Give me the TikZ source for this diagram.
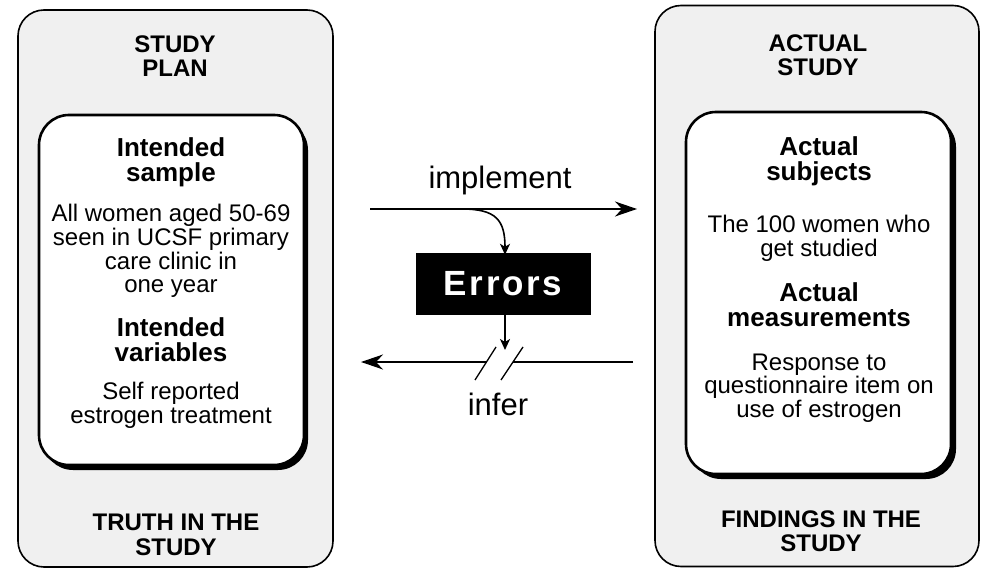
\documentclass[tikz,border=0pt]{standalone}
\usepackage{fontspec}
\setmainfont{Liberation Sans}
\usetikzlibrary{arrows.meta}
\begin{document}
\begin{tikzpicture}[x=1pt,y=-1pt,
  outerbox/.style={draw=black, line width=1.6pt, rounded corners=26pt, fill=black!6, inner sep=0pt},
  innerbox/.style={draw=black, line width=2.6pt, rounded corners=30pt, fill=white, inner sep=0pt},
  shadowbox/.style={fill=black, rounded corners=30pt, inner sep=0pt},
  title/.style={font=\fontsize{24}{24.5}\selectfont\bfseries, align=center, inner sep=0pt},
  head/.style={font=\fontsize{26}{25}\selectfont\bfseries, align=center, inner sep=0pt},
  body/.style={font=\fontsize{24}{23.7}\selectfont, align=center, inner sep=0pt},
  mid/.style={font=\fontsize{31}{31}\selectfont, inner sep=0pt},
  conn/.style={line width=1.6pt},
  bigtip/.style={-{Stealth[length=22pt,width=15pt,inset=7pt]}},
  smalltip/.style={-{Stealth[length=11pt,width=10pt,inset=3pt]}},
  errbox/.style={fill=black, text=white, font=\fontsize{35}{35}\selectfont\bfseries, minimum width=175pt, minimum height=62pt, inner sep=0pt}
]
\useasboundingbox (0,0) rectangle (984,569);

% left panel
\node[outerbox, minimum width=315pt, minimum height=557pt] (plan) at (175.5,288.5) {};
\node[shadowbox, minimum width=265pt, minimum height=350pt] (planshadow) at (175.5,295) {};
\node[innerbox, minimum width=265pt, minimum height=350pt] (planin) at (171.5,290) {};
\node[title] (plantitle) at (175,56) {STUDY\\PLAN};
\node[head] (sample) at (171,162) {Intended\\sample};
\node[body] (sampletext) at (171,251) {All women aged 50-69\\seen in UCSF primary\\care clinic in\\one year};
\node[head] (vars) at (171,340) {Intended\\variables};
\node[body] (varstext) at (171,405) {Self reported\\estrogen treatment};
\node[title] (truth) at (176,535) {TRUTH IN THE\\STUDY};

% right panel
\node[outerbox, minimum width=324pt, minimum height=561pt] (actual) at (817,286) {};
\node[shadowbox, minimum width=265pt, minimum height=362pt] (actshadow) at (823.5,298) {};
\node[innerbox, minimum width=265pt, minimum height=362pt] (actin) at (818.5,293) {};
\node[title] (acttitle) at (818,55) {ACTUAL\\STUDY};
\node[head] (subj) at (819,161) {Actual\\subjects};
\node[body] (subjtext) at (819,238) {The 100 women who\\get studied};
\node[head] (meas) at (819,305) {Actual\\measurements};
\node[body] (meastext) at (819,388) {Response to\\questionnaire item on\\use of estrogen};
\node[title] (findings) at (821,531) {FINDINGS IN THE\\STUDY};

% middle
\node[mid] (implement) at (500,180) {implement};
\node[mid] (infer) at (498,404) {infer};
\node[errbox] (errors) at (503,284) {E\kern2.6pt r\kern2.6pt r\kern2.6pt o\kern2.6pt r\kern2.6pt s};

\coordinate (impS) at (370,209);
\coordinate (impE) at (637,209);
\coordinate (curveS) at (462,209);
\draw[conn, bigtip] (impS) -- (impE);
\draw[conn, smalltip] (curveS) .. controls (496,209) and (505,220) .. ([xshift=2pt,yshift=-2pt]errors.north);
\coordinate (errEnd) at (505,350);
\draw[conn, smalltip] ([xshift=2pt]errors.south) -- (errEnd);

\coordinate (infS) at (633,362);
\coordinate (infE) at (361,362);
\coordinate (sl2) at (513,362);
\coordinate (sl1) at (486,362);
\draw[conn] (infS) -- (sl2);
\draw[conn, bigtip] (sl1) -- (infE);
\draw[line width=1.3pt] (sl1) ++(-11,18) -- ++(21,-33);
\draw[line width=1.3pt] (sl2) ++(-12,18) -- ++(22,-33);
\end{tikzpicture}
\end{document}
